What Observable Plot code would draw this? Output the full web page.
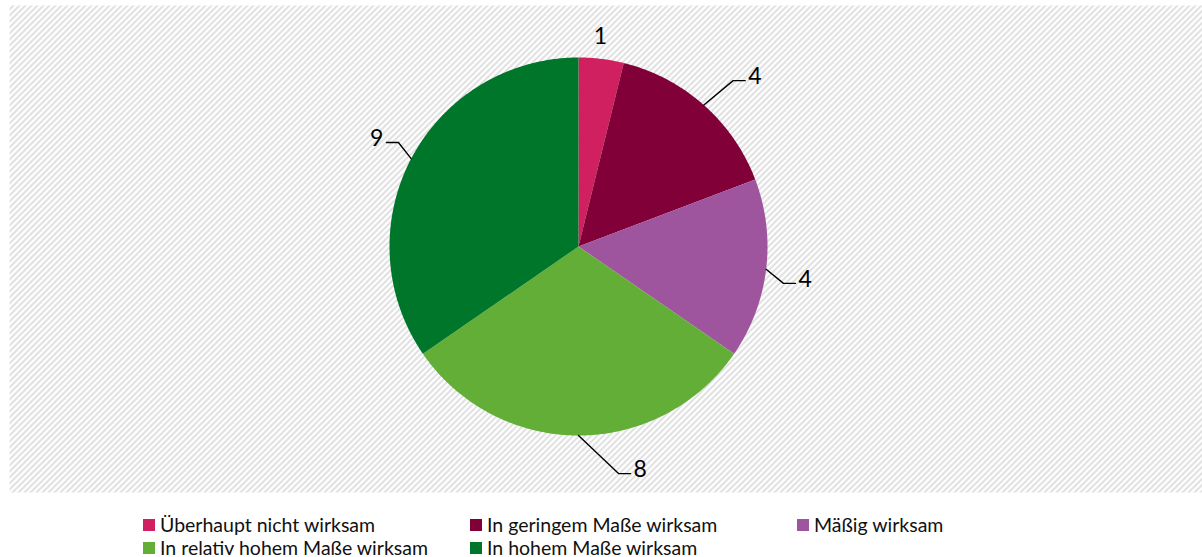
<!DOCTYPE html>
<html>
<head>
<meta charset="utf-8">
<script src="https://cdn.jsdelivr.net/npm/d3@7"></script>
<script src="https://cdn.jsdelivr.net/npm/@observablehq/plot@0.6"></script>
<style>
  html, body { margin: 0; padding: 0; background: #ffffff; }
  #chart { width: 1202px; position: relative; }
  .legend {
    display: grid;
    grid-template-columns: repeat(3, 327px);
    padding-left: 143px;
    margin-top: 13px;
    font-family: Lato, "Open Sans", sans-serif;
    font-size: 19.5px;
    line-height: 23px;
    color: #111;
  }
  .legend .item { display: flex; align-items: center; white-space: nowrap; }
  .legend .sw { width: 12px; height: 12px; margin-right: 5px; flex: none; }
</style>
</head>
<body>
<div id="chart"></div>
<script>
// ---- data ----
const categories = [
  "Überhaupt nicht wirksam",
  "In geringem Maße wirksam",
  "Mäßig wirksam",
  "In relativ hohem Maße wirksam",
  "In hohem Maße wirksam"
];
const values = [1, 4, 4, 8, 9];
const colors = ["#D12060", "#820038", "#9E559E", "#62AE37", "#00762A"];

// ---- layout (label placement, in pie-radius units / degrees clockwise from top) ----
const labelLayout = [
  { angle: 6.1, r: 1.096, leader: false },
  { angle: 43.0, r: 1.20, leader: true },
  { angle: 100.2, r: 1.102, leader: true },
  { angle: 170.0, r: 1.22, leader: true },
  { angle: 300.0, r: 1.10, leader: true }
];

const W = 1202, H = 500;
const mTop = 5, mLeft = 9, mRight = 0, mBottom = 8;
const cx = 578, cy = 246, R = 189; // pixel placement of pie

const total = d3.sum(values);
const rad = (deg) => deg * Math.PI / 180;
const polar = (deg, r) => [r * Math.sin(rad(deg)), r * Math.cos(rad(deg))];

// slices as polygons
const slicePts = [];
let acc = 0;
const mids = [];
values.forEach((v, i) => {
  const a0 = acc / total * 360, a1 = (acc + v) / total * 360;
  mids.push((a0 + a1) / 2);
  slicePts.push({ cat: categories[i], x: 0, y: 0 });
  const n = Math.max(2, Math.ceil((a1 - a0) * 2));
  for (let k = 0; k <= n; k++) {
    const a = a0 + (a1 - a0) * k / n;
    const [x, y] = polar(a, 1);
    slicePts.push({ cat: categories[i], x, y });
  }
  slicePts.push({ cat: categories[i], x: 0, y: 0 });
  acc += v;
});

// leader lines & labels
const seg = 12 / R, gap = 3 / R;
const leaderPts = [];
const labels = [];
values.forEach((v, i) => {
  const L = labelLayout[i];
  const [ex, ey] = polar(L.angle, L.r);
  if (!L.leader) {
    labels.push({ x: ex, y: ey, text: String(v), anchor: "middle" });
    return;
  }
  const [sx, sy] = polar(mids[i], 1);
  const side = ex >= 0 ? 1 : -1;
  const hx = ex + side * seg;
  leaderPts.push({ id: i, x: sx, y: sy }, { id: i, x: ex, y: ey }, { id: i, x: hx, y: ey });
  labels.push({ x: hx + side * gap, y: ey, text: String(v), anchor: side > 0 ? "start" : "end" });
});

const xDomain = [(mLeft - cx) / R, (W - mRight - cx) / R];
const yDomain = [(cy - (H - mBottom)) / R, (cy - mTop) / R];

const textOpts = (anchor) => ({
  x: "x", y: "y", text: "text", textAnchor: anchor,
  dy: -4, fontSize: 23, fill: "#000",
  fontFamily: "Lato, 'Open Sans', sans-serif"
});

const plot = Plot.plot({
  width: W,
  height: H,
  marginTop: mTop,
  marginLeft: mLeft,
  marginRight: mRight,
  marginBottom: mBottom,
  style: { background: "transparent", overflow: "visible" },
  x: { domain: xDomain, axis: null },
  y: { domain: yDomain, axis: null },
  color: { domain: categories, range: colors },
  marks: [
    Plot.frame({ fill: "url(#hatch)", stroke: "none" }),
    Plot.line(slicePts, { x: "x", y: "y", z: "cat", fill: "cat", stroke: "none", curve: "linear" }),
    Plot.line(leaderPts, { x: "x", y: "y", z: "id", stroke: "#000", strokeWidth: 1.4, curve: "linear" }),
    ...["start", "middle", "end"].map(a =>
      Plot.text(labels.filter(d => d.anchor === a), textOpts(a)))
  ]
});

// hatch pattern definition
const svg = d3.select(plot);
const defs = svg.insert("defs", ":first-child");
const pat = defs.append("pattern")
  .attr("id", "hatch")
  .attr("patternUnits", "userSpaceOnUse")
  .attr("width", 6).attr("height", 6);
pat.append("rect").attr("width", 6).attr("height", 6).attr("fill", "#ffffff");
pat.append("path")
  .attr("d", "M0,6 L6,0 M-1.5,1.5 L1.5,-1.5 M4.5,7.5 L7.5,4.5")
  .attr("stroke", "#d2d2d2").attr("stroke-width", 1.4);

const chart = document.getElementById("chart");
chart.appendChild(plot);

// legend
const legend = document.createElement("div");
legend.className = "legend";
categories.forEach((c, i) => {
  const item = document.createElement("div");
  item.className = "item";
  const sw = document.createElement("span");
  sw.className = "sw";
  sw.style.background = colors[i];
  const t = document.createElement("span");
  t.textContent = c;
  item.appendChild(sw);
  item.appendChild(t);
  legend.appendChild(item);
});
chart.appendChild(legend);
</script>
</body>
</html>
